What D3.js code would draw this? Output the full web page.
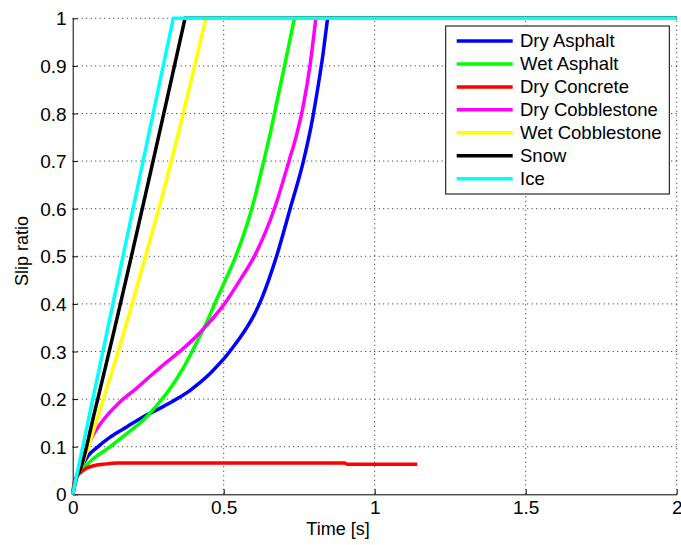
<!DOCTYPE html>
<html>
<head>
<meta charset="utf-8">
<script src="https://cdn.jsdelivr.net/npm/d3@7"></script>
<style>
  html, body { margin: 0; padding: 0; background: #fff; }
  svg { display: block; }
  text { font-family: "Liberation Sans", Arial, sans-serif; fill: #000; }
</style>
</head>
<body>
<svg id="chart" width="681" height="545"></svg>
<script>
// ---- Data ----
const seriesNames = ["Dry Asphalt", "Wet Asphalt", "Dry Concrete", "Dry Cobblestone", "Wet Cobblestone", "Snow", "Ice"];
const seriesColors = ["#0000ff", "#00ff00", "#ff0000", "#ff00ff", "#ffff00", "#000000", "#00ffff"];

const dryAsphaltT = [0, 0.01, 0.025, 0.05, 0.08, 0.124, 0.18, 0.234, 0.29, 0.344, 0.39, 0.422, 0.46, 0.488, 0.51, 0.532, 0.555, 0.576, 0.6, 0.625, 0.65, 0.675, 0.72, 0.764, 0.79, 0.812, 0.83, 0.844, 2];
const dryAsphaltS = [0, 0.03, 0.052, 0.08, 0.098, 0.12, 0.142, 0.163, 0.181, 0.200, 0.219, 0.235, 0.257, 0.276, 0.292, 0.310, 0.330, 0.350, 0.376, 0.41, 0.452, 0.50, 0.600, 0.700, 0.775, 0.855, 0.93, 1, 1];

const wetAsphaltT = [0, 0.01, 0.024, 0.06, 0.124, 0.18, 0.234, 0.28, 0.311, 0.366, 0.41, 0.444, 0.47, 0.5, 0.543, 0.593, 0.629, 0.653, 0.678, 0.703, 0.734, 2];
const wetAsphaltS = [0, 0.03, 0.046, 0.07, 0.10, 0.128, 0.156, 0.188, 0.212, 0.265, 0.318, 0.362, 0.40, 0.442, 0.505, 0.600, 0.690, 0.755, 0.830, 0.905, 1, 1];

const dryConcreteT = [0, 0.005, 0.013, 0.03, 0.046, 0.07, 0.1, 0.15, 0.3, 0.5, 0.7, 0.9, 0.91, 1.0, 1.141];
const dryConcreteS = [0, 0.025, 0.037, 0.048, 0.055, 0.06, 0.063, 0.066, 0.066, 0.066, 0.066, 0.066, 0.063, 0.063, 0.063];

const dryCobbleT = [0, 0.02, 0.04, 0.06, 0.1, 0.15, 0.21, 0.26, 0.31, 0.36, 0.40, 0.445, 0.5, 0.554, 0.604, 0.67, 0.717, 0.74, 0.764, 0.786, 0.805, 2];
const dryCobbleS = [0, 0.05, 0.085, 0.115, 0.155, 0.19, 0.222, 0.25, 0.277, 0.303, 0.326, 0.356, 0.398, 0.45, 0.503, 0.604, 0.702, 0.752, 0.818, 0.902, 1, 1];

const wetCobbleT = [0, 0.01, 0.024, 0.09, 0.16, 0.23, 0.30, 0.37, 0.441, 2];
const wetCobbleS = [0, 0.03, 0.05, 0.177, 0.32, 0.475, 0.635, 0.81, 1, 1];

const snowT = [0, 0.01, 0.024, 0.074, 0.372, 2];
const snowS = [0, 0.03, 0.05, 0.177, 1, 1];

const iceT = [0, 0.333, 2];
const iceS = [0, 1, 1];

const xTickValues = [0, 0.5, 1, 1.5, 2];
const xTickLabels = ["0", "0.5", "1", "1.5", "2"];
const yTickValues = [0, 0.1, 0.2, 0.3, 0.4, 0.5, 0.6, 0.7, 0.8, 0.9, 1];
const yTickLabels = ["0", "0.1", "0.2", "0.3", "0.4", "0.5", "0.6", "0.7", "0.8", "0.9", "1"];
const xLabel = "Time [s]";
const yLabel = "Slip ratio";

// ---- Layout ----
const svg = d3.select("#chart");
const L = 72.7, R = 676.7, T = 18.3, B = 494.3;
const x = d3.scaleLinear().domain([0, 2]).range([L, R]);
const y = d3.scaleLinear().domain([0, 1]).range([B, T]);

// grid
const grid = svg.append("g");
grid.selectAll("line.gx").data(xTickValues.slice(1)).enter().append("line")
  .attr("x1", d => x(d)).attr("x2", d => x(d)).attr("y1", B).attr("y2", T)
  .attr("stroke", "#222").attr("stroke-width", 1).attr("stroke-dasharray", "1,3.5");
grid.selectAll("line.gy").data(yTickValues.slice(1)).enter().append("line")
  .attr("y1", d => y(d)).attr("y2", d => y(d)).attr("x1", L).attr("x2", R)
  .attr("stroke", "#222").attr("stroke-width", 1).attr("stroke-dasharray", "1,3.5");

// axes
const xAxis = d3.axisBottom(x).tickValues(xTickValues).tickFormat((d, i) => xTickLabels[i]).tickSizeInner(-5).tickSizeOuter(0).tickPadding(11);
const yAxis = d3.axisLeft(y).tickValues(yTickValues).tickFormat((d, i) => yTickLabels[i]).tickSizeInner(-5).tickSizeOuter(0).tickPadding(11);
const gx = svg.append("g").attr("transform", `translate(0,${B})`).call(xAxis);
const gy = svg.append("g").attr("transform", `translate(${L},0)`).call(yAxis);
[gx, gy].forEach(g => {
  g.select(".domain").attr("stroke", "#000").attr("stroke-width", 1);
  g.selectAll(".tick line").attr("stroke", "#000");
  g.selectAll(".tick text").attr("font-family", "Liberation Sans, Arial, sans-serif").attr("font-size", 19).attr("fill", "#000");
});
gx.selectAll(".tick text").attr("dy", "0.71em").attr("y", 6);
gy.selectAll(".tick text").attr("x", -6).attr("dy", "0.35em");

// labels
svg.append("text").attr("x", 338).attr("y", 535).attr("text-anchor", "middle").attr("font-size", 18).text(xLabel);
svg.append("text").attr("transform", "translate(28,251) rotate(-90)").attr("text-anchor", "middle").attr("font-size", 18).text(yLabel);

// series
const seriesData = [
  [dryAsphaltT, dryAsphaltS],
  [wetAsphaltT, wetAsphaltS],
  [dryConcreteT, dryConcreteS],
  [dryCobbleT, dryCobbleS],
  [wetCobbleT, wetCobbleS],
  [snowT, snowS],
  [iceT, iceS]
];
const curveLine = d3.line().x(d => x(d[0])).y(d => y(d[1])).curve(d3.curveMonotoneX);
const plot = svg.append("g");
seriesData.forEach((sd, i) => {
  const pts = sd[0].map((t, k) => [t, sd[1][k]]);
  // rising part drawn smooth, saturated part (slip = 1) drawn straight
  let sat = pts.findIndex(p => p[1] >= 1);
  if (sat < 0) sat = pts.length - 1;
  let d = curveLine(pts.slice(0, sat + 1));
  pts.slice(sat + 1).forEach(p => { d += `L${x(p[0])},${y(p[1])}`; });
  plot.append("path").attr("d", d)
    .attr("fill", "none").attr("stroke", seriesColors[i]).attr("stroke-width", 3.5)
    .attr("stroke-linejoin", "round");
});

// legend
const lg = svg.append("g");
lg.append("rect").attr("x", 445.7).attr("y", 26).attr("width", 223.6).attr("height", 168)
  .attr("fill", "#fff").attr("stroke", "#000").attr("stroke-width", 1);
seriesNames.forEach((name, i) => {
  const yy = 41 + i * 22.95;
  lg.append("line").attr("x1", 456.7).attr("x2", 512.7).attr("y1", yy).attr("y2", yy)
    .attr("stroke", seriesColors[i]).attr("stroke-width", 3.5);
  lg.append("text").attr("x", 520).attr("y", yy).attr("dy", "0.35em").attr("font-size", 18.5).text(name);
});
</script>
</body>
</html>
